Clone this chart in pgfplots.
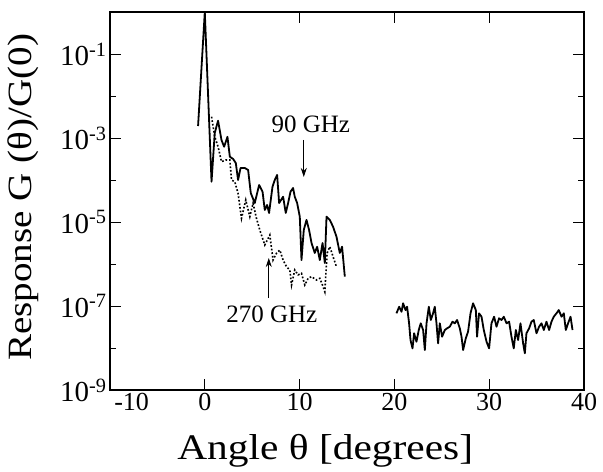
\documentclass[border=0pt]{standalone}
\usepackage{pgfplots}
\pgfplotsset{compat=1.18}
\usepackage{fontspec}
\setmainfont{Liberation Serif}
\newfontfamily\wideserif[FakeStretch=1.15]{Liberation Serif}
\usetikzlibrary{arrows.meta}

% near-axis section, 90 GHz (solid)
\pgfplotstableread{
th val
-0.71 1.93e-3
0.00 1.0
0.71 9.1e-5
1.05 1.32e-3
1.40 2.58e-3
1.76 8.96e-4
2.04 6.2e-4
2.39 1.07e-3
2.64 3.59e-4
2.99 3.16e-4
3.27 2.54e-4
3.51 1.0e-4
3.77 1.93e-4
4.22 1.93e-4
4.57 1.73e-4
4.85 4.9e-5
5.27 2.83e-5
5.73 7.6e-5
6.09 5.26e-5
6.33 1.93e-5
6.57 2.54e-5
6.78 1.64e-5
7.14 6.9e-5
7.38 1.0e-4
7.63 1.32e-4
7.84 2.83e-5
8.26 4.0e-5
8.54 1.64e-5
8.79 2.83e-5
9.04 5.26e-5
9.31 6.45e-5
9.49 4.0e-5
9.74 2.83e-5
10.02 1.34e-5
10.20 1.24e-6
10.44 6.45e-6
10.73 1.12e-5
11.00 6.45e-6
11.26 3.16e-6
11.60 1.83e-6
11.85 2.58e-6
12.13 1.24e-6
12.42 3.16e-6
12.66 1.06e-6
12.84 1.34e-5
13.19 1.12e-5
13.53 7.7e-6
13.89 4.47e-6
14.24 1.83e-6
14.48 2.58e-6
14.77 5.0e-7
}\ghzninety

% 270 GHz (dotted)
\pgfplotstableread{
th val
0.71 3.21e-3
1.05 1.07e-3
1.40 6.2e-4
1.76 2.73e-4
2.22 2.99e-4
2.64 2.99e-4
2.82 1.0e-4
3.16 9.1e-5
3.51 4.8e-5
3.87 1.22e-5
4.32 3.34e-5
4.75 1.34e-5
5.09 2.79e-5
5.45 1.22e-5
5.80 6.45e-6
6.33 2.83e-6
6.86 4.9e-6
7.20 1.24e-6
7.56 1.8e-6
7.91 2.15e-6
8.26 1.24e-6
8.62 8.6e-7
8.97 7.2e-7
9.15 3.16e-7
9.49 7.2e-7
9.84 5.5e-7
10.20 6.0e-7
10.55 3.16e-7
10.90 4.57e-7
11.26 5.0e-7
11.78 4.16e-7
12.13 4.57e-7
12.48 2.88e-7
12.66 2.19e-7
12.90 1.8e-6
13.19 2.58e-6
13.53 1.49e-6
13.89 8.6e-7
}\ghztwoseventy

% far sidelobes, 20-39 degrees (solid)
\pgfplotstableread{
th val
20.22 6.7e-8
20.50 9.6e-8
20.75 7.3e-8
20.92 1.16e-7
21.17 8.0e-8
21.34 9.6e-8
21.55 3.87e-8
21.70 1.55e-8
21.91 9.8e-9
22.08 2.24e-8
22.33 1.41e-8
22.57 2.68e-8
22.78 3.87e-8
23.03 2.68e-8
23.21 8.96e-9
23.39 3.87e-8
23.63 9.6e-8
23.84 4.64e-8
24.08 6.7e-8
24.26 9.6e-8
24.44 3.87e-8
24.61 1.29e-8
24.79 3.87e-8
25.03 1.86e-8
25.32 2.68e-8
25.56 2.94e-8
25.84 3.21e-8
26.13 4.23e-8
26.37 3.87e-8
26.61 4.64e-8
26.90 2.94e-8
27.08 1.86e-8
27.25 8.96e-9
27.53 1.7e-8
27.77 2.44e-8
28.03 6.7e-8
28.30 1.16e-7
28.59 8.0e-8
28.72 1.86e-8
28.93 6.7e-8
29.19 5.56e-8
29.43 2.68e-8
29.72 1.41e-8
29.99 9.8e-9
30.24 3.87e-8
30.52 5.56e-8
30.77 3.21e-8
31.04 5.1e-8
31.30 4.64e-8
31.54 5.56e-8
31.83 3.87e-8
32.10 4.23e-8
32.35 1.86e-8
32.59 9.8e-9
32.81 2.68e-8
33.05 1.55e-8
33.30 3.87e-8
33.58 1.29e-8
33.76 7.5e-9
33.93 2.24e-8
34.21 2.94e-8
34.46 4.23e-8
34.70 4.64e-8
34.99 2.24e-8
35.26 3.21e-8
35.52 3.87e-8
35.76 2.68e-8
36.04 4.23e-8
36.32 2.68e-8
36.57 4.23e-8
36.81 5.56e-8
37.10 6.7e-8
37.34 8.0e-8
37.63 5.56e-8
37.87 6.7e-8
38.08 2.68e-8
38.32 3.87e-8
38.58 5.56e-8
38.79 2.68e-8
}\farside

\begin{document}
\begin{tikzpicture}
\begin{axis}[
    scale only axis,
    width=474pt, height=378pt,
    xmin=-10, xmax=40,
    ymin=1e-9, ymax=1,
    ymode=log,
    xtick={-10,0,10,20,30,40},
    xticklabels={\makebox[0pt][l]{\,-10},0,10,20,30,40},
    ytick={1e-9,1e-7,1e-5,1e-3,1e-1},
    yticklabels={10\textsuperscript{-9},10\textsuperscript{-7},10\textsuperscript{-5},10\textsuperscript{-3},10\textsuperscript{-1}},
    minor ytick={1e-8,1e-6,1e-4,1e-2},
    tick align=inside,
    tick pos=both,
    major tick length=11pt,
    minor tick length=6pt,
    tick style={black, line width=0.9pt},
    axis line style={line width=1.1pt},
    xticklabel style={font=\fontsize{26}{30}\selectfont},
    yticklabel style={font=\fontsize{29}{33}\selectfont},
    xlabel={Angle θ [degrees]},
    ylabel={Response G (θ)/G(0)},
    xlabel style={font=\wideserif\fontsize{36}{40}\selectfont, at={(axis description cs:0.454,-0.185)}, anchor=base},
    ylabel style={font=\wideserif\fontsize{34}{38}\selectfont, at={(axis description cs:-0.1835,0.51)}, anchor=center},
]
    \addplot[black, line width=1.8pt, line join=round] table[x=th, y=val] {\ghzninety};
    \addplot[black, line width=1.6pt, dash pattern={on 1.7pt off 1.9pt}] table[x=th, y=val] {\ghztwoseventy};
    \addplot[black, line width=1.8pt, line join=round] table[x=th, y=val] {\farside};

    \node[font=\fontsize{25}{30}\selectfont] at (axis cs:11.18,2.15e-3) {90 GHz};
    \draw[-{Stealth[length=9pt,width=6pt]}, line width=0.9pt] (axis cs:10.44,9.0e-4) -- (axis cs:10.44,1.18e-4);
    \node[font=\fontsize{25}{30}\selectfont] at (axis cs:7.07,6.2e-8) {270 GHz};
    \draw[-{Stealth[length=9pt,width=6pt]}, line width=0.9pt] (axis cs:6.75,1.55e-7) -- (axis cs:6.75,1.39e-6);

    \coordinate (sw) at (rel axis cs:0,0);
    \coordinate (ne) at (rel axis cs:1,1);
\end{axis}
\path (sw) ++(-110pt,-77pt);
\path (ne) ++(19pt,12pt);
\end{tikzpicture}
\end{document}
